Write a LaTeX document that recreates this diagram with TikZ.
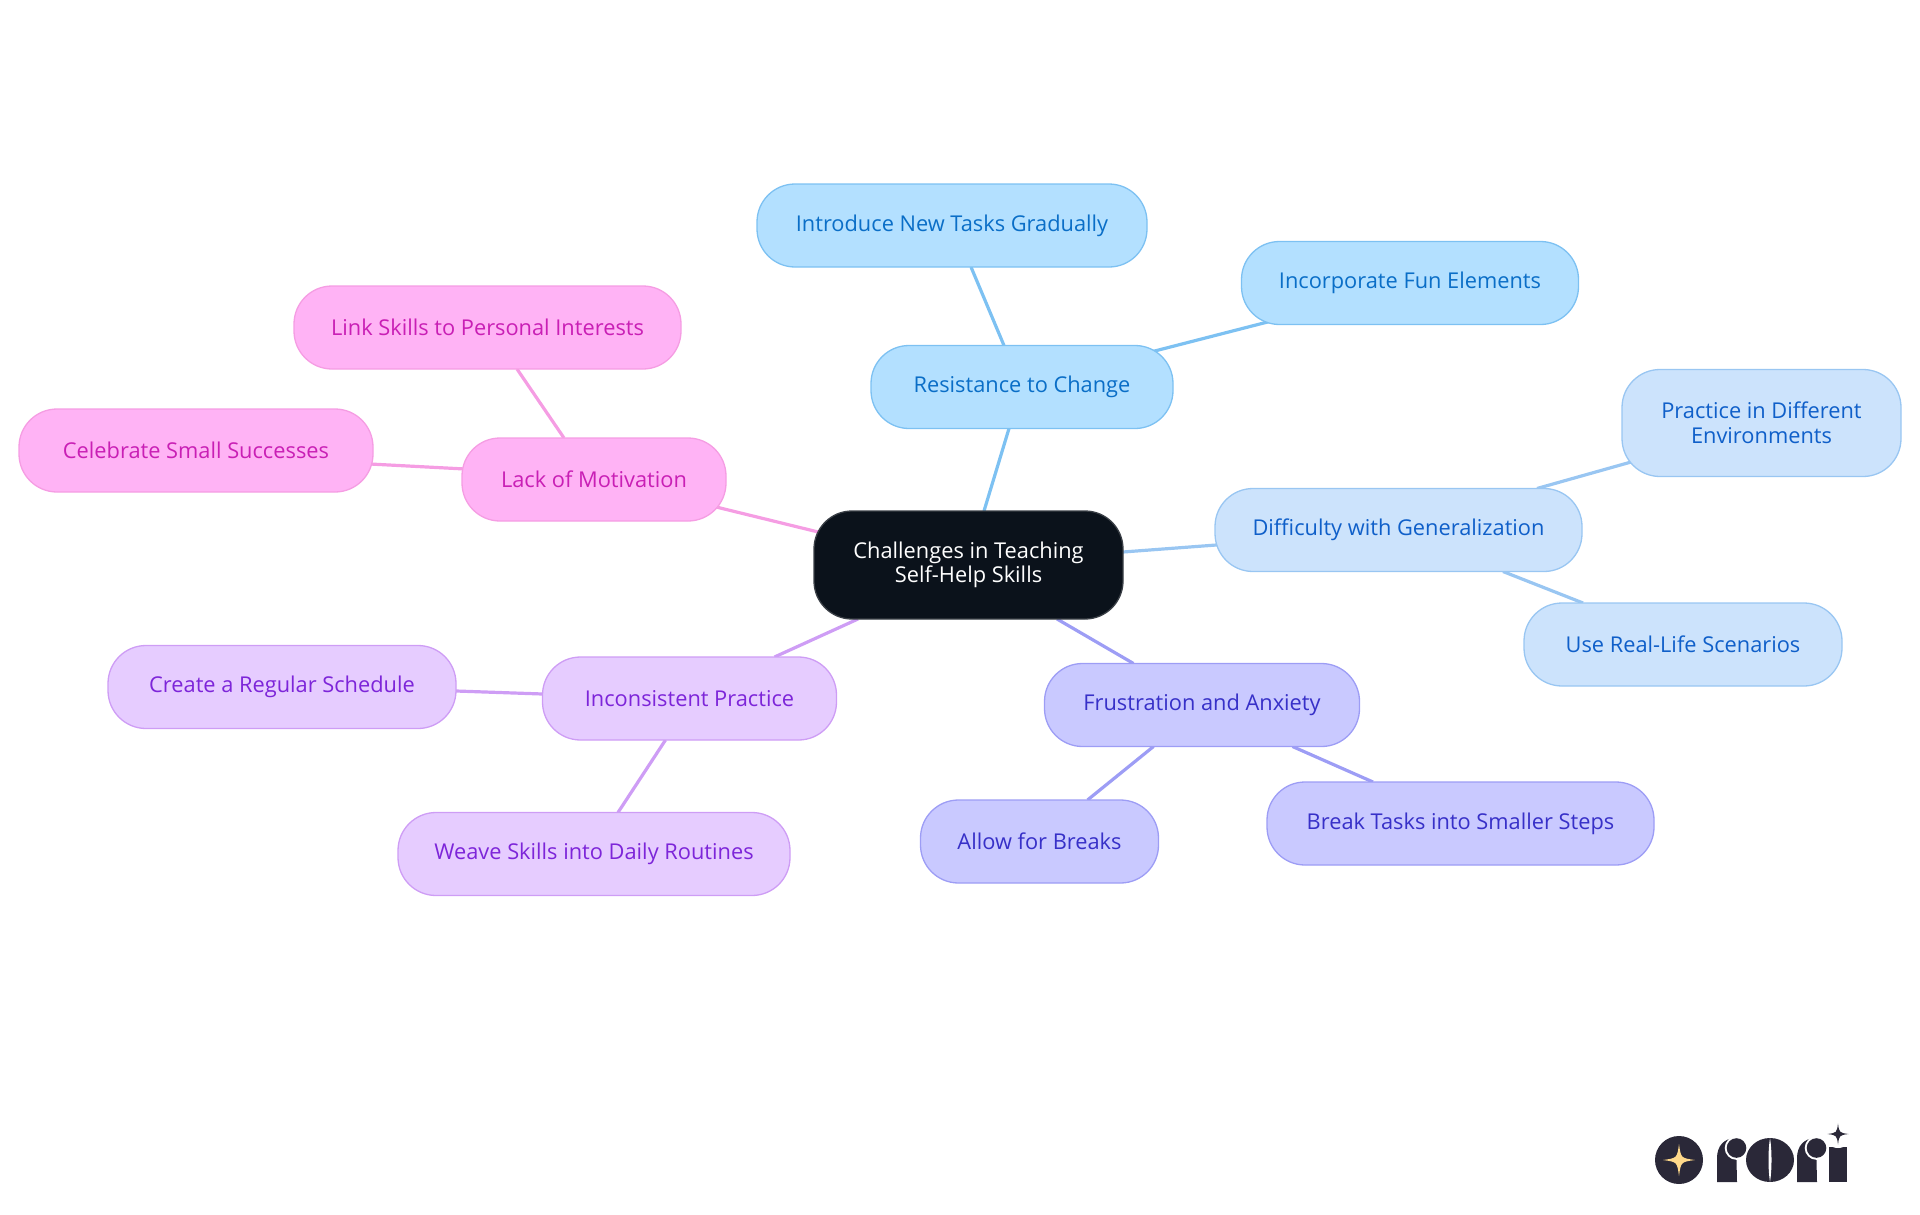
\documentclass[tikz,border=0pt]{standalone}
\usepackage{fontspec}
\setmainfont{Open Sans}
\usetikzlibrary{backgrounds}
\definecolor{rootfill}{HTML}{0B121B}
\definecolor{rootline}{HTML}{3A3F46}
\definecolor{resfill}{HTML}{B3E0FF}
\definecolor{resline}{HTML}{7DC1F2}
\definecolor{restext}{HTML}{0A6EC7}
\definecolor{difffill}{HTML}{CCE3FC}
\definecolor{diffline}{HTML}{99C6F2}
\definecolor{difftext}{HTML}{0F5FC9}
\definecolor{frusfill}{HTML}{C9C9FF}
\definecolor{frusline}{HTML}{9D9DF5}
\definecolor{frustext}{HTML}{3730C8}
\definecolor{incfill}{HTML}{E6CCFF}
\definecolor{incline}{HTML}{CE9DF5}
\definecolor{inctext}{HTML}{7D25D9}
\definecolor{lackfill}{HTML}{FFB3F5}
\definecolor{lackline}{HTML}{F59DE3}
\definecolor{lacktext}{HTML}{C91FB5}
\definecolor{logodark}{HTML}{2A2838}
\definecolor{logostar}{HTML}{FFD98A}
\tikzset{
	mapnode/.style={rounded corners=38pt, line width=1.3pt, inner sep=0pt, outer sep=0pt, minimum height=83pt, align=center, font=\fontsize{21.8}{24.5}\selectfont},
	rootnode/.style={mapnode, fill=rootfill, draw=rootline, text=white, minimum height=108pt},
	resnode/.style={mapnode, fill=resfill, draw=resline, text=restext},
	diffnode/.style={mapnode, fill=difffill, draw=diffline, text=difftext},
	frusnode/.style={mapnode, fill=frusfill, draw=frusline, text=frustext},
	incnode/.style={mapnode, fill=incfill, draw=incline, text=inctext},
	lacknode/.style={mapnode, fill=lackfill, draw=lackline, text=lacktext},
	branch/.style={line width=3.2pt}
}
\newcommand{\sparkle}[4] % x, y, reach, colour
{
	\fill[#4] (#1,#2-#3) .. controls (#1+0.12*#3,#2-0.12*#3) .. (#1+#3,#2) .. controls (#1+0.12*#3,#2+0.12*#3) .. (#1,#2+#3) .. controls (#1-0.12*#3,#2+0.12*#3) .. (#1-#3,#2) .. controls (#1-0.12*#3,#2-0.12*#3) .. cycle;
}
\newcommand{\logor}[1] % left edge of the stem
{
	\fill[logodark] (#1,1182) -- (#1,1158) .. controls (#1,1146) and (#1+7,1138) .. (#1+19,1138) -- (#1+20,1182) -- cycle;
	\fill[white] (#1+19.5,1148) circle (11.8);
	\fill[logodark] (#1+19.5,1148) circle (9.8);
}
\begin{document}
\begin{tikzpicture}[x=1pt, y=-1pt]
	\useasboundingbox (0,0) rectangle (1920,1215);
	% centre
	\node[rootnode, minimum width=309pt] (root) at (968.5,565) {Challenges in Teaching\\Self-Help Skills};

	% top branch
	\node[resnode, minimum width=302pt] (res) at (1022,387) {Resistance to Change};
	\node[resnode, minimum width=390pt] (intro) at (952,225.5) {Introduce New Tasks Gradually};
	\node[resnode, minimum width=337pt] (fun) at (1410,283) {Incorporate Fun Elements};

	% right branch
	\node[diffnode, minimum width=367pt] (diff) at (1398.5,530) {Difficulty with Generalization};
	\node[diffnode, minimum width=279pt, minimum height=107pt] (envs) at (1761.5,423) {Practice in Different\\Environments};
	\node[diffnode, minimum width=318pt] (real) at (1683,644.5) {Use Real-Life Scenarios};

	% lower right branch
	\node[frusnode, minimum width=315pt] (frus) at (1202,705) {Frustration and Anxiety};
	\node[frusnode, minimum width=238pt] (pause) at (1039.5,841.5) {Allow for Breaks};
	\node[frusnode, minimum width=387pt] (steps) at (1460.5,823.5) {Break Tasks into Smaller Steps};

	% lower left branch
	\node[incnode, minimum width=294pt] (inc) at (689.5,698.5) {Inconsistent Practice};
	\node[incnode, minimum width=348pt] (sched) at (282,687) {Create a Regular Schedule};
	\node[incnode, minimum width=392pt] (weave) at (594,854) {Weave Skills into Daily Routines};

	% left branch
	\node[lacknode, minimum width=264pt] (lack) at (594,479.5) {Lack of Motivation};
	\node[lacknode, minimum width=387pt] (link) at (487.5,327.5) {Link Skills to Personal Interests};
	\node[lacknode, minimum width=354pt] (small) at (196,450.5) {Celebrate Small Successes};

	\begin{scope}[on background layer]
	\draw[branch, resline] ([xshift=15.5pt]root.north) -- ([xshift=-13pt]res.south);
	\draw[branch, resline] ([xshift=-18pt]res.north) -- ([xshift=19pt]intro.south);
	\draw[branch, resline] ([xshift=-28pt,yshift=-8pt]res.north east) -- ([xshift=30pt,yshift=3.5pt]fun.south west);

	\draw[branch, diffline] ([yshift=13pt]root.east) -- ([xshift=4pt,yshift=-14.8pt]diff.west);
	\draw[branch, diffline] ([xshift=-45pt]diff.north east) -- ([xshift=18pt,yshift=17pt]envs.south west);
	\draw[branch, diffline] ([xshift=-79pt]diff.south east) -- ([xshift=59pt]real.north west);

	\draw[branch, frusline] ([xshift=88.5pt]root.south) -- ([xshift=89pt]frus.north west);
	\draw[branch, frusline] ([xshift=109pt]frus.south west) -- ([xshift=167pt]pause.north west);
	\draw[branch, frusline] ([xshift=248pt]frus.south west) -- ([xshift=106pt]steps.north west);

	\draw[branch, incline] ([xshift=44pt]root.south west) -- ([xshift=232pt]inc.north west);
	\draw[branch, incline] ([yshift=4.5pt]inc.west) -- ([yshift=-4pt]sched.east);
	\draw[branch, incline] ([xshift=123pt]inc.south west) -- ([xshift=220pt]weave.north west);

	\draw[branch, lackline] ([xshift=14pt,yshift=30.6pt]root.west) -- ([xshift=-18pt,yshift=-25.5pt]lack.east);
	\draw[branch, lackline] ([xshift=102pt]lack.north west) -- ([xshift=223pt]link.south west);
	\draw[branch, lackline] ([xshift=3pt,yshift=10.5pt]lack.west) -- ([xshift=-3pt,yshift=-13.5pt]small.east);
	\end{scope}

	% logo
	\fill[logodark] (1679,1160) circle (24);
	\sparkle{1679}{1160}{16}{logostar}
	\logor{1717}
	\fill[logodark] (1770,1160) ellipse (24 and 22);
	\fill[white] (1770,1138) .. controls (1768,1150) and (1768,1170) .. (1770,1182) .. controls (1772,1170) and (1772,1150) .. (1770,1138) -- cycle;
	\logor{1797}
	\fill[logodark] (1829,1147) rectangle (1847,1182);
	\fill[white] (1838,1134) circle (14);
	\sparkle{1838}{1134}{10.5}{logodark}
\end{tikzpicture}
\end{document}
